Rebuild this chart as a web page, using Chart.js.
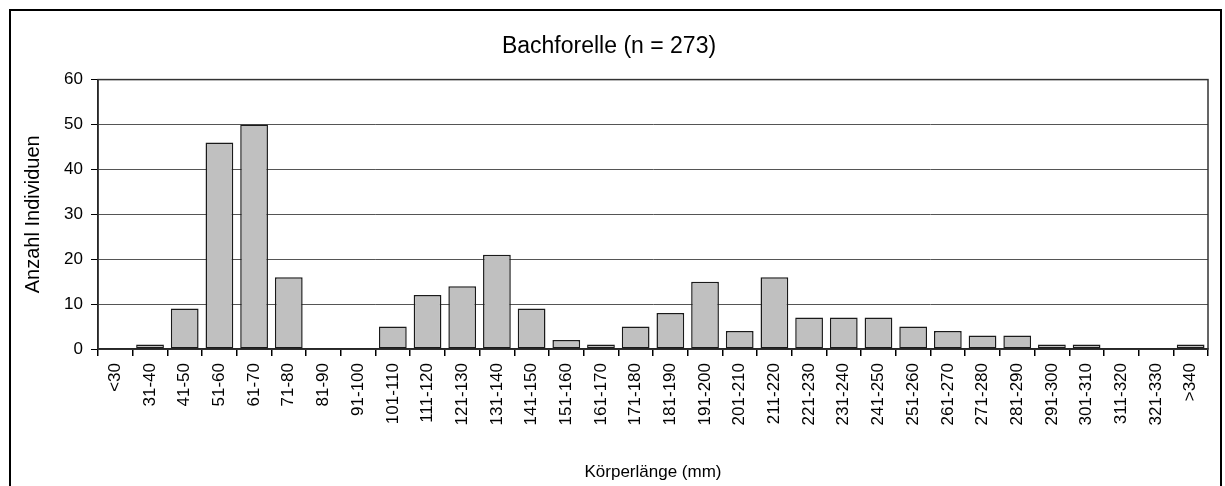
<!DOCTYPE html>
<html>
<head>
<meta charset="utf-8">
<script src="https://cdn.jsdelivr.net/npm/chart.js@4/dist/chart.umd.min.js"></script>
<style>
  html, body { margin: 0; padding: 0; background: #fff; }
  #wrap { width: 1225px; height: 486px; }
</style>
</head>
<body>
<div id="wrap"><canvas id="histo" width="1225" height="486"></canvas></div>
<script>
const lengthClasses = [
    '<30', '31-40', '41-50', '51-60', '61-70', '71-80', '81-90', '91-100',
    '101-110', '111-120', '121-130', '131-140', '141-150', '151-160', '161-170', '171-180',
    '181-190', '191-200', '201-210', '211-220', '221-230', '231-240', '241-250', '251-260',
    '261-270', '271-280', '281-290', '291-300', '301-310', '311-320', '321-330', '>340'
];

const countFish = [
    0, 1, 9, 46, 50, 16, 0, 0,
    5, 12, 14, 21, 9, 2, 1, 5,
    8, 15, 4, 16, 7, 7, 7, 5,
    4, 3, 3, 1, 1, 0, 0, 1
];

const yTicks = [0, 10, 20, 30, 40, 50, 60];

const fontFam = '"Liberation Sans", Arial, sans-serif';

// Rahmen um Diagramm und Zeichenfläche
const framePlugin = {
    id: 'frames',
    afterDraw(chart) {
        const ctx = chart.ctx;
        const a = chart.chartArea;
        ctx.save();
        ctx.strokeStyle = '#000';
        ctx.lineWidth = 2;
        ctx.beginPath();
        ctx.moveTo(10, 490);
        ctx.lineTo(10, 10);
        ctx.lineTo(1221, 10);
        ctx.lineTo(1221, 490);
        ctx.stroke();
        ctx.lineWidth = 1.5;
        ctx.strokeStyle = '#333';
        ctx.strokeRect(a.left, a.top, a.right - a.left, a.bottom - a.top);
        ctx.restore();
    }
};

const dataBar = {
    labels: lengthClasses,
    datasets: [{
        label: 'Anzahl',
        data: countFish,
        backgroundColor: '#c0c0c0',
        borderColor: '#1a1a1a',
        borderWidth: 1.5,
        borderSkipped: false,
        categoryPercentage: 1.0,
        barPercentage: 0.8
    }]
};

const configBar = {
    type: 'bar',
    data: dataBar,
    options: {
        responsive: false,
        animation: false,
        layout: { padding: { left: 10, right: 17, top: 0, bottom: 0 } },
        plugins: {
            legend: { display: false },
            tooltip: { enabled: false },
            title: {
                display: true,
                text: 'Bachforelle (n = 273)',
                color: '#000',
                font: { family: fontFam, size: 23, weight: 'normal' },
                padding: { top: 33, bottom: 19 }
            }
        },
        scales: {
            x: {
                grid: {
                    offset: true,
                    drawOnChartArea: false,
                    drawTicks: true,
                    tickLength: 7,
                    color: '#000',
                    lineWidth: 1.5
                },
                border: { color: '#000', width: 1.5 },
                ticks: {
                    minRotation: 90,
                    maxRotation: 90,
                    autoSkip: false,
                    padding: 7,
                    color: '#000',
                    font: { family: fontFam, size: 17 }
                },
                title: {
                    display: true,
                    text: 'Körperlänge (mm)',
                    color: '#000',
                    font: { family: fontFam, size: 17 },
                    padding: { top: 4, bottom: 3 }
                },
                afterFit(s) { s.height = 137; }
            },
            y: {
                min: 0,
                max: 60,
                afterBuildTicks(s) { s.ticks = yTicks.map(v => ({ value: v })); },
                grid: {
                    color: '#555',
                    lineWidth: 1,
                    tickLength: 7,
                    tickColor: '#000'
                },
                border: { color: '#000', width: 1.5 },
                ticks: {
                    padding: 8,
                    color: '#000',
                    font: { family: fontFam, size: 17 }
                },
                title: {
                    display: true,
                    text: 'Anzahl Individuen',
                    color: '#000',
                    font: { family: fontFam, size: 20 },
                    padding: { top: 11, bottom: 0 }
                },
                afterFit(s) { s.width = 88; }
            }
        }
    },
    plugins: [framePlugin]
};

const myChartBars = new Chart(
    document.getElementById('histo'),
    configBar
);
</script>
</body>
</html>
